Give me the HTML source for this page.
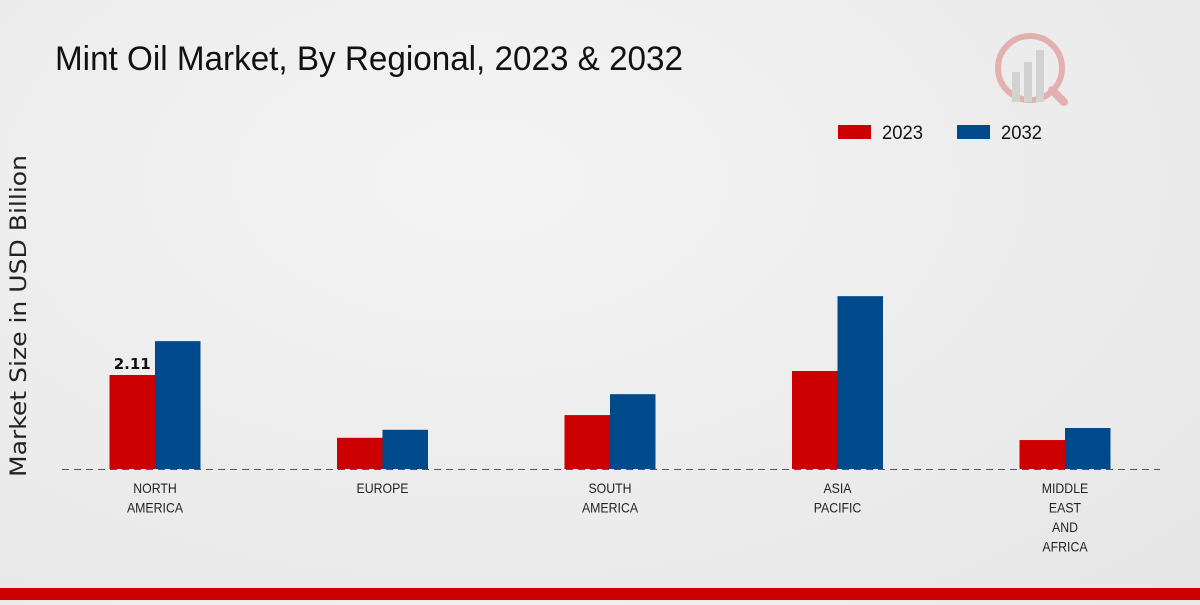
<!DOCTYPE html>
<html><head><meta charset="utf-8"><style>
body{margin:0;width:1200px;height:600px;overflow:hidden;background:radial-gradient(ellipse at 40% 30%,#f4f4f4 0%,#e6e6e6 100%);font-family:"Liberation Sans",sans-serif;}
</style></head><body>
<svg width="1200" height="600">
<text x="55" y="70" font-size="34" fill="#111" textLength="628" lengthAdjust="spacingAndGlyphs">Mint Oil Market, By Regional, 2023 &amp; 2032</text>
<g opacity="0.25">
<circle cx="1030" cy="68" r="32" fill="none" stroke="#c00" stroke-width="6"/>
<rect x="1012" y="72" width="8" height="30" fill="#888"/><rect x="1024" y="62" width="8" height="40" fill="#888"/><rect x="1036" y="50" width="8" height="52" fill="#888"/>
<line x1="1052" y1="90" x2="1064" y2="102" stroke="#c00" stroke-width="8" stroke-linecap="round"/>
</g>
<g font-size="19" fill="#111">
<rect x="838" y="125" width="33" height="14" fill="#cc0000"/>
<text x="882" y="139" textLength="41" lengthAdjust="spacingAndGlyphs">2023</text>
<rect x="957" y="125" width="33" height="14" fill="#004a8b"/>
<text x="1001" y="139" textLength="41" lengthAdjust="spacingAndGlyphs">2032</text>
</g>
<text transform="translate(26,316) rotate(-90)" text-anchor="middle" font-size="22" fill="#222" font-family="DejaVu Sans, sans-serif" textLength="322" lengthAdjust="spacingAndGlyphs">Market Size in USD Billion</text>
<g id="bars"></g>
<line x1="62" y1="469.5" x2="1160" y2="469.5" stroke="#555" stroke-dasharray="7,5"/>
<g id="labels" font-size="14" fill="#222" text-anchor="middle"></g>
<rect x="0" y="588" width="1200" height="12" fill="#cc0000"/>
</svg>
<script>
const categories=[["NORTH","AMERICA"],["EUROPE"],["SOUTH","AMERICA"],["ASIA","PACIFIC"],["MIDDLE","EAST","AND","AFRICA"]];
const values2023=[2.11,0.70,1.21,2.20,0.65];
const values2032=[2.87,0.88,1.68,3.88,0.92];
const ns="http://www.w3.org/2000/svg";
const base=469,scale=44.55,x0=155,step=227.5,bw=45.5;
const xc=i=>x0+i*step, yv=v=>base-v*scale;
const bars=document.getElementById('bars'),labels=document.getElementById('labels');
categories.forEach((c,i)=>{
 [[values2023,"#cc0000",-bw,"2023"],[values2032,"#004a8b",0,"2032"]].forEach(([arr,col,off,s])=>{
  const r=document.createElementNS(ns,'rect');
  r.setAttribute('x',xc(i)+off);r.setAttribute('y',yv(arr[i]));r.setAttribute('width',bw);r.setAttribute('height',base-yv(arr[i]));r.setAttribute('fill',col);
  
  
  bars.appendChild(r);
 });
 c.forEach((w,j)=>{
  const t=document.createElementNS(ns,'text');
  t.setAttribute('transform','translate('+xc(i)+','+(493+j*19.5)+') scale(0.88,1)');
  t.textContent=w;
  
  
  labels.appendChild(t);
 });
});
const v=document.createElementNS(ns,'text');
v.setAttribute('x',xc(0)-bw/2);v.setAttribute('y',yv(values2023[0])-6);v.setAttribute('text-anchor','middle');v.setAttribute('font-size','15');v.setAttribute('font-weight','bold');v.setAttribute('font-family','DejaVu Sans, sans-serif');v.setAttribute('fill','#111');
v.textContent=values2023[0].toFixed(2);


bars.appendChild(v);
</script>
</body></html>
